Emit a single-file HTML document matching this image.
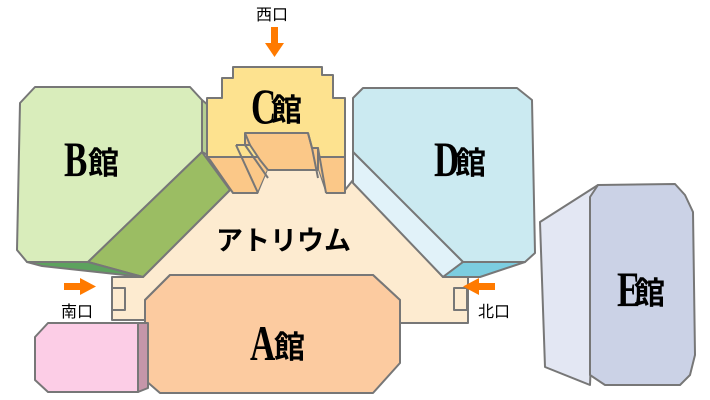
<!DOCTYPE html>
<html><head><meta charset="utf-8"><style>
html,body{margin:0;padding:0;background:#fff;width:710px;height:400px;overflow:hidden}
svg{display:block}
.t{font-family:"Liberation Serif",serif;font-weight:bold;fill:#000}
.k{font-family:"Liberation Sans","Noto Sans CJK JP",sans-serif;fill:#000}
</style></head><body>
<svg width="710" height="400" viewBox="0 0 710 400" stroke="#777" stroke-width="2" stroke-linejoin="round">
<!-- atrium -->
<polygon points="230,190 345,190 353,180 443,277 468,277 468,323 400,323 400,300 373,275 170,275 145,300 145,320 112,320 112,277 143,277" fill="#fdebd0"/>
<rect x="112" y="288" width="13" height="22" fill="#fdebd0"/>
<rect x="454" y="288" width="13" height="22" fill="#fdebd0"/>
<!-- B -->
<polygon points="20,103 35,87 190,87 202,100 202,152 88,262 27,262 17,250" fill="#d9edbb"/>
<polygon points="202,100 208,105 208,155 202,152" fill="#b5cf90"/>
<polygon points="202,152 230,190 143,277 88,262" fill="#9bbd63"/>
<polygon points="27,262 88,262 143,277 42,266" fill="#5da25e"/>
<!-- C -->
<polygon points="233,67 322,67 322,75 333,75 333,98 345,98 345,157 207,157 207,98 222,98 222,78 233,78" fill="#fde28f"/>
<polygon points="207,157 345,157 345,193 326,193 318,170 268,170 258,193 233,193 210,160" fill="#fbc888"/>
<polygon points="245,133 308,133 312,148 318,148 318,170 268,170 260,160 250,145 245,145" fill="#fbc888"/>
<polygon points="258,194 268,170 318,170 326,194" fill="#fdebd0" stroke="none"/>
<line x1="268" y1="170" x2="318" y2="170"/>
<polyline points="236,145 245,145 268,178" fill="none"/>
<polyline points="236,145 258,193" fill="none"/>
<polyline points="245,133 250,145" fill="none"/>
<polyline points="308,133 312,148 318,148 326,193" fill="none"/>
<line x1="312" y1="148" x2="318" y2="178"/>
<!-- D -->
<polygon points="353,98 363,88 517,88 532,100 535,253 525,262 463,262 353,152" fill="#cbeaf1"/>
<polygon points="353,152 463,262 443,277 353,183" fill="#e1f2f9"/>
<polygon points="463,262 525,262 480,277 443,277" fill="#7ccde0"/>
<!-- E -->
<polygon points="540,222 598,185 590,385 545,367" fill="#e3e7f3"/>
<polygon points="598,185 675,184 685,195 693,212 695,355 690,375 680,385 605,385 590,375 590,197" fill="#cbd2e6"/>
<!-- A -->
<polygon points="145,300 170,275 373,275 400,300 400,363 373,393 160,393 145,380" fill="#fccba0"/>
<!-- pink -->
<polygon points="138,323 148,323 148,388 138,392" fill="#c596a9"/>
<polygon points="35,337 48,323 138,323 138,392 48,392 35,380" fill="#fccde6"/>
<!-- arrows -->
<g fill="#ff7a00" stroke="none">
<rect x="271" y="27" width="7" height="19"/><polygon points="265,43 284,43 274.5,57"/>
<rect x="64" y="283" width="18" height="7"/><polygon points="80,278 96,286.5 80,295"/>
<rect x="477" y="283" width="18" height="7"/><polygon points="479,278 463,286.5 479,295"/>
</g>
<g stroke="none">
<text class="t" x="64" y="176" font-size="50" transform="translate(64,0) scale(0.7,1) translate(-64,0)">B</text>
<text class="k" x="88" y="174" font-size="31" font-weight="bold">館</text>
<text class="t" x="251" y="123" font-size="50" transform="translate(251,0) scale(0.7,1) translate(-251,0)">C</text>
<text class="k" x="271" y="121" font-size="31" font-weight="bold">館</text>
<text class="t" x="434" y="176" font-size="50" transform="translate(434,0) scale(0.7,1) translate(-434,0)">D</text>
<text class="k" x="455" y="174" font-size="31" font-weight="bold">館</text>
<text class="t" x="617" y="306" font-size="50" transform="translate(617,0) scale(0.7,1) translate(-617,0)">E</text>
<text class="k" x="634" y="304" font-size="31" font-weight="bold">館</text>
<text class="t" x="250" y="360" font-size="50" transform="translate(250,0) scale(0.7,1) translate(-250,0)">A</text>
<text class="k" x="274" y="358" font-size="31" font-weight="bold">館</text>
<text class="k" x="216" y="250" font-size="27" font-weight="bold">アトリウム</text>
<text class="k" x="256" y="20" font-size="16">西口</text>
<text class="k" x="61" y="317" font-size="16">南口</text>
<text class="k" x="478" y="317" font-size="16">北口</text>
</g>
</svg>
</body></html>
